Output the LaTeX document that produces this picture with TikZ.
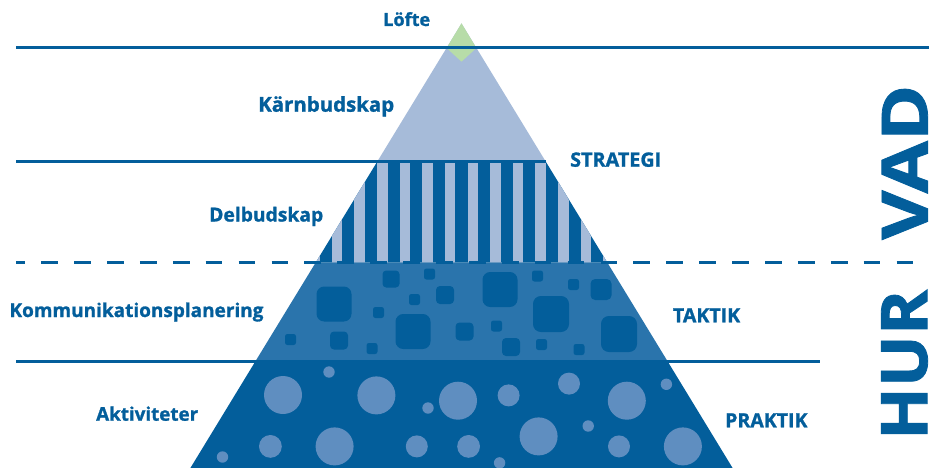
\documentclass[tikz,border=0pt]{standalone}
\usepackage{fontspec}
\setmainfont{Open Sans}[BoldFeatures={FakeBold=1.2}]
\usepackage{graphicx}
\definecolor{dkblue}{HTML}{035E9B}
\definecolor{mdblue}{HTML}{2A74AC}
\definecolor{ltblue}{HTML}{A6BBD9}
\definecolor{crblue}{HTML}{5F8EC0}
\definecolor{kgreen}{HTML}{B7DCA8}
\newcommand{\fitlbl}[2]{\resizebox{#1pt}{!}{\bfseries #2}}
\begin{document}
\begin{tikzpicture}[x=1pt,y=-1pt,
  lbl/.style={anchor=base west, inner sep=0pt, text=dkblue},
  bigword/.style={rotate=90, anchor=south west, inner sep=0pt, text=dkblue},
  sepline/.style={draw=dkblue, line width=3pt},
  sepdash/.style={draw=dkblue, line width=2.6pt, dash pattern=on 16.7pt off 16.2pt, dash phase=7.7pt},
  sq/.style={fill=dkblue},
  bubble/.style={fill=crblue}]
\useasboundingbox (0,0) rectangle (929,468);
% top layer
\fill[ltblue] (461.5,23.5) -- (546,162) -- (377,162) -- cycle;
% striped layer
\begin{scope}
\clip (377,162) -- (546,162) -- (607.4,262.7) -- (315.6,262.7) -- cycle;
\fill[dkblue] (300,160) rectangle (620,263);
\foreach \k in {-3,...,10}
  \fill[ltblue] ({377+22.64*\k},160) rectangle ({387.5+22.64*\k},263);
\end{scope}
% squares layer
\fill[mdblue] (315.6,262.7) -- (607.4,262.7) -- (667.7,361.5) -- (255.3,361.5) -- cycle;
\foreach \x/\y/\s [evaluate=\s as \r using 0.22*\s] in {391/279/17,429.5/274/11,500/289.5/35,537.5/276/11,573.5/284.5/11,601/289.5/21,334/304/35,445/295/18,414.5/299.5/11,551/314/36,378.5/312.5/11,413/331.5/35,464.5/331.5/18,496.5/326/11,619/334/36,290.5/339.5/11,339/340.5/18,372/348.5/11,511/347/18,541.5/344.5/11,579/349.5/11}
  \fill[sq, rounded corners=\r pt] ({\x-\s/2},{\y-\s/2}) rectangle ({\x+\s/2},{\y+\s/2});
% circles layer
\fill[dkblue] (255.3,361.5) -- (667.7,361.5) -- (732.6,468) -- (190.4,468) -- cycle;
\foreach \x/\y/\r in {283/395/19,329/372/5.7,376.4/395.4/19,428/408/5.7,458/400.7/19,508.6/395.4/11,569/383.6/11,626.8/400.7/19,666.4/384.3/5.7,222.5/457/5.7,270.4/446.4/11.4,334.6/446.4/19,416.8/446.4/11,468.6/446.4/11.4,499.6/462.9/5.7,538.6/436.4/19,588.2/426/5.7,619/446.4/11,682.9/446.4/19}
  \fill[bubble] (\x,\y) circle[radius=\r pt];
% green tip
\fill[kgreen] (461.5,23.3) -- (476.4,48) -- (461.5,61.7) -- (446.6,48) -- cycle;
% separator lines
\draw[sepline] (16,48) -- (929,48);
\draw[sepline] (16,162) -- (546,162);
\draw[sepdash] (16,262.7) -- (929,262.7);
\draw[sepline] (16,361.5) -- (820,361.5);
% labels
\node[lbl] (lofte) at (383,26) {\fitlbl{47}{Löfte}};
\node[lbl] (karn) at (258,111.7) {\fitlbl{136}{Kärnbudskap}};
\node[lbl] (strat) at (570,166.7) {\fitlbl{91}{STRATEGI}};
\node[lbl] (delb) at (209,221.5) {\fitlbl{114}{Delbudskap}};
\node[lbl] (komm) at (9.3,317) {\fitlbl{254}{Kommunikationsplanering}};
\node[lbl] (takt) at (672.7,322.3) {\fitlbl{67.3}{TAKTIK}};
\node[lbl] (aktiv) at (96,420.7) {\fitlbl{102}{Aktiviteter}};
\node[lbl] (prakt) at (725,427.3) {\fitlbl{82.3}{PRAKTIK}};
\node[bigword] (hur) at (928,440) {\resizebox{150pt}{46pt}{\bfseries HUR}};
\node[bigword] (vad) at (928,240) {\resizebox{155pt}{46pt}{\bfseries VAD}};
\end{tikzpicture}
\end{document}
